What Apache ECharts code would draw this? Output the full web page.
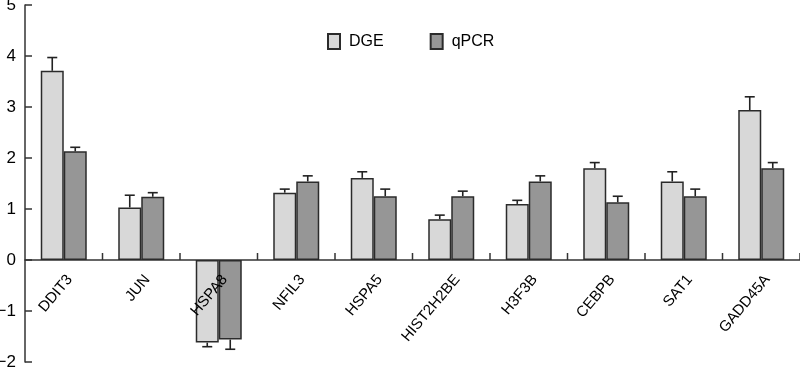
<!DOCTYPE html>
<html><head><meta charset="utf-8">
<script src="https://cdn.jsdelivr.net/npm/echarts@6/dist/echarts.min.js"></script>
<style>html,body{margin:0;padding:0;background:#fff}#c{width:800px;height:371px}</style>
</head><body><div id="c"></div>
<script>
var categories = ['DDIT3','JUN','HSPA8','NFIL3','HSPA5','HIST2H2BE','H3F3B','CEBPB','SAT1','GADD45A'];
var dge = [3.71, 1.03, -1.62, 1.32, 1.61, 0.80, 1.10, 1.80, 1.54, 2.94];
var dgeErr = [0.26, 0.24, 0.08, 0.07, 0.12, 0.08, 0.07, 0.11, 0.19, 0.26];
var qpcr = [2.13, 1.24, -1.56, 1.54, 1.25, 1.25, 1.54, 1.13, 1.25, 1.80];
var qpcrErr = [0.08, 0.08, 0.19, 0.11, 0.14, 0.10, 0.11, 0.12, 0.14, 0.11];
var yTicks = [-2, -1, 0, 1, 2, 3, 4, 5];

var BAR_W = 23;
var FONT = 'Liberation Sans, Arial, sans-serif';
function errData(vals, errs) {
  return vals.map(function (v, i) { return [i, v, v >= 0 ? v + errs[i] : v - errs[i]]; });
}
function errSeries(vals, errs, offset) {
  return {
    type: 'custom',
    silent: true,
    z: 1,
    data: errData(vals, errs),
    encode: { x: 0, y: [1, 2] },
    renderItem: function (params, api) {
      var a = api.coord([api.value(0), api.value(1)]);
      var b = api.coord([api.value(0), api.value(2)]);
      var x = a[0] + offset;
      var cap = 5;
      var st = { stroke: '#222', lineWidth: 1.6 };
      return {
        type: 'group',
        children: [
          { type: 'line', shape: { x1: x, y1: a[1], x2: x, y2: b[1] }, style: st },
          { type: 'line', shape: { x1: x - cap, y1: b[1], x2: x + cap, y2: b[1] }, style: st }
        ]
      };
    }
  };
}

// category labels and ticks placed on the zero line
var labelSeries = {
  type: 'custom',
  silent: true,
  z: 5,
  data: categories.map(function (c, i) { return [i, 0]; }),
  encode: { x: 0, y: 1 },
  clip: false,
  renderItem: function (params, api) {
    var i = api.value(0);
    var p = api.coord([i, 0]);
    var band = api.size([1, 0])[0];
    var tx = p[0] + band / 2;
    return {
      type: 'group',
      children: [
        { type: 'line', shape: { x1: tx, y1: p[1], x2: tx, y2: p[1] - 7 },
          style: { stroke: '#333', lineWidth: 1.5 } },
        { type: 'text', x: p[0] + 6, y: p[1] + 17, rotation: 50 * Math.PI / 180,
          style: { text: categories[i], align: 'right', verticalAlign: 'middle',
                   font: '15px ' + FONT, fill: '#000' } }
      ]
    };
  }
};

var chart = echarts.init(document.getElementById('c'), null, { renderer: 'canvas' });
chart.setOption({
  animation: false,
  textStyle: { fontFamily: FONT },
  grid: { left: 25, right: 0, top: 5, bottom: 9, containLabel: false, outerBoundsMode: 'none' },
  legend: {
    left: 327, top: 33, padding: 0, icon: 'rect',
    itemWidth: 12, itemHeight: 15, itemGap: 46,
    data: ['DGE', 'qPCR'],
    textStyle: { fontSize: 16, color: '#000', padding: [0, 0, 0, 4] }
  },
  xAxis: {
    type: 'category',
    data: categories,
    boundaryGap: true,
    axisLine: { onZero: true, lineStyle: { color: '#333', width: 1.5 } },
    axisTick: { show: false },
    axisLabel: { show: false },
    splitLine: { show: false }
  },
  yAxis: {
    type: 'value',
    min: -2, max: 5, interval: 1,
    axisLine: { show: true, lineStyle: { color: '#333', width: 1.5 } },
    axisTick: { show: true, inside: true, length: 7, lineStyle: { color: '#333', width: 1.5 } },
    axisLabel: {
      fontSize: 17, color: '#000', margin: 9,
      formatter: function (v) { return yTicks.indexOf(v) >= 0 ? String(v).replace('-', '\u2212') : ''; }
    },
    splitLine: { show: false }
  },
  series: [
    {
      name: 'DGE', type: 'bar', data: dge, barWidth: BAR_W, barGap: '0%',
      itemStyle: { color: '#d8d8d8', borderColor: '#2b2b2b', borderWidth: 1.5 }, z: 2
    },
    {
      name: 'qPCR', type: 'bar', data: qpcr, barWidth: BAR_W, barGap: '0%',
      itemStyle: { color: '#969696', borderColor: '#2b2b2b', borderWidth: 1.5 }, z: 2
    },
    errSeries(dge, dgeErr, -BAR_W / 2),
    errSeries(qpcr, qpcrErr, BAR_W / 2),
    labelSeries
  ]
});
</script>
</body></html>
